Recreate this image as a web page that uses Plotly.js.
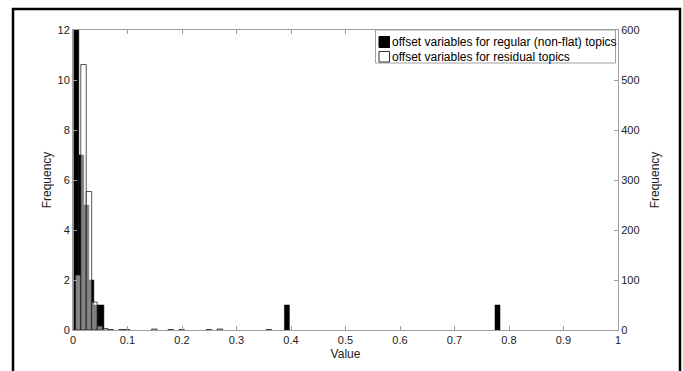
<!DOCTYPE html>
<html>
<head>
<meta charset="utf-8">
<script src="https://cdn.plot.ly/plotly-3.0.1.min.js"></script>
<style>html,body{margin:0;padding:0;background:#fff;}#chart{width:683px;height:371px;}</style>
</head>
<body>
<div id="chart"></div>
<script>
// Histogram of offset variables for regular (non-flat) topics (left axis)
const regularBinCenters = [0.0061, 0.0153, 0.0245, 0.0337, 0.0429, 0.0521, 0.3925, 0.7789];
const regularCounts     = [12, 7, 5, 2, 1, 1, 1, 1];
// Histogram of offset variables for residual topics (right axis)
const residualBinCenters = [0.0093, 0.0193, 0.0293, 0.0393, 0.0493, 0.0593, 0.0693, 0.0893, 0.0993, 0.1493, 0.1793, 0.1993, 0.2493, 0.2693, 0.3593];
const residualCounts     = [110, 531, 277, 56, 8, 3, 1, 1, 1, 2, 1, 1, 1, 2, 1];

const xTicks = [0, 0.1, 0.2, 0.3, 0.4, 0.5, 0.6, 0.7, 0.8, 0.9, 1];
const xTickLabels = ['0', '0.1', '0.2', '0.3', '0.4', '0.5', '0.6', '0.7', '0.8', '0.9', '1'];
const yLeftTicks = [0, 2, 4, 6, 8, 10, 12];
const yRightTicks = [0, 100, 200, 300, 400, 500, 600];

const legendLabels = ['offset variables for regular (non-flat) topics', 'offset variables for residual topics'];

const FONT = 'Liberation Sans, Arial, sans-serif';
const W = 683, H = 371, ML = 73, MR = 65, MT = 30, MB = 41;
const PW = W - ML - MR, PH = H - MT - MB;
// pixel -> paper helpers (for the frame and the legend box only)
const px = v => (v - ML) / PW;
const py = v => (H - MB - v) / PH;

const traces = [
  {
    type: 'bar', name: legendLabels[0],
    x: regularBinCenters, y: regularCounts,
    width: 0.0092,
    marker: {color: '#000000', line: {color: '#000000', width: 0.5}},
    xaxis: 'x', yaxis: 'y'
  },
  {
    type: 'bar', name: legendLabels[1],
    x: residualBinCenters, y: residualCounts,
    width: 0.0100,
    marker: {color: 'rgba(255,255,255,0.5)', line: {color: 'rgba(20,20,20,0.9)', width: 0.8}},
    xaxis: 'x', yaxis: 'y2'
  }
];

const axisCommon = {
  showgrid: false, zeroline: false, showline: true,
  linecolor: '#a0a0a0', linewidth: 1,
  ticks: 'inside', ticklen: 4, tickcolor: '#a0a0a0', tickwidth: 1,
  tickfont: {family: FONT, size: 11, color: '#222'},
  automargin: false
};

const shapes = [
  // outer figure frame
  {type: 'rect', xref: 'paper', yref: 'paper',
   x0: px(13), x1: px(680), y0: py(390), y1: py(9),
   line: {color: '#000', width: 2.5}, fillcolor: 'rgba(0,0,0,0)', layer: 'below'},
  // legend box
  {type: 'rect', xref: 'paper', yref: 'paper',
   x0: px(375.5), x1: px(615.5), y0: py(63), y1: py(30),
   line: {color: '#a0a0a0', width: 1}, fillcolor: '#ffffff', layer: 'above'},
  // legend swatches
  {type: 'rect', xref: 'paper', yref: 'paper',
   x0: px(379), x1: px(389.5), y0: py(47.5), y1: py(36.5),
   line: {color: '#000', width: 1}, fillcolor: '#000000', layer: 'above'},
  {type: 'rect', xref: 'paper', yref: 'paper',
   x0: px(379), x1: px(389.5), y0: py(62), y1: py(51.5),
   line: {color: '#333', width: 1}, fillcolor: '#ffffff', layer: 'above'}
];

const annotations = legendLabels.map((t, i) => ({
  xref: 'paper', yref: 'paper', x: px(390), y: py(i === 0 ? 42 : 57),
  xanchor: 'left', yanchor: 'middle', showarrow: false, text: t,
  font: {family: FONT, size: 12, color: '#000'}
}));

const layout = {
  width: W, height: H,
  margin: {l: ML, r: MR, t: MT, b: MB},
  paper_bgcolor: '#ffffff', plot_bgcolor: '#ffffff',
  font: {family: FONT, color: '#222'},
  barmode: 'overlay',
  showlegend: false,
  xaxis: Object.assign({}, axisCommon, {
    range: [0, 1], tickmode: 'array', tickvals: xTicks, ticktext: xTickLabels,
    mirror: 'ticks',
    title: {text: 'Value', font: {family: FONT, size: 12, color: '#222'}, standoff: 4}
  }),
  yaxis: Object.assign({}, axisCommon, {
    range: [0, 12], tickmode: 'array', tickvals: yLeftTicks,
    title: {text: 'Frequency', font: {family: FONT, size: 12, color: '#222'}, standoff: 3}
  }),
  yaxis2: Object.assign({}, axisCommon, {
    range: [0, 600], tickmode: 'array', tickvals: yRightTicks,
    overlaying: 'y', side: 'right',
    title: {text: 'Frequency', font: {family: FONT, size: 12, color: '#222'}, standoff: 12}
  }),
  shapes: shapes,
  annotations: annotations
};

Plotly.newPlot('chart', traces, layout, {staticPlot: true, displayModeBar: false});
</script>
</body>
</html>
